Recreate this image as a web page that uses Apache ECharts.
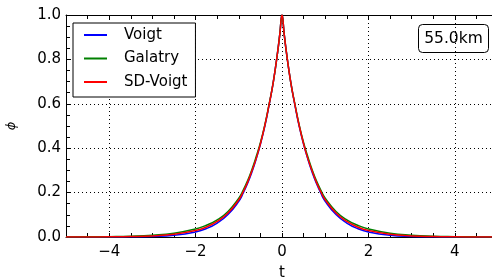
<!DOCTYPE html>
<html>
<head>
<meta charset="utf-8">
<script src="https://cdn.jsdelivr.net/npm/echarts@6/dist/echarts.min.js"></script>
<style>
html, body { margin: 0; padding: 0; background: #fff; }
#main { width: 492px; height: 278px; }
</style>
</head>
<body>
<div id="main"></div>
<script>
var tValues = [-5, -4.5, -4, -3.5, -3, -2.5, -2, -1.75, -1.5, -1.25, -1, -0.9, -0.8, -0.7, -0.6, -0.5, -0.4, -0.3, -0.2, -0.1, -0.05, 0,
	0.05, 0.1, 0.2, 0.3, 0.4, 0.5, 0.6, 0.7, 0.8, 0.9, 1, 1.25, 1.5, 1.75, 2, 2.5, 3, 3.5, 4, 4.5, 5];
var voigt = [0, 0.0001, 0.0003, 0.0009, 0.0027, 0.008, 0.023, 0.038, 0.063, 0.101, 0.161, 0.197, 0.24, 0.291, 0.35, 0.418, 0.497, 0.593, 0.70, 0.835, 0.915, 1.0,
	0.915, 0.835, 0.70, 0.593, 0.497, 0.418, 0.35, 0.291, 0.24, 0.197, 0.161, 0.101, 0.063, 0.038, 0.023, 0.008, 0.0027, 0.0009, 0.0003, 0.0001, 0];
var galatry = [0.0003, 0.0007, 0.0016, 0.0035, 0.008, 0.017, 0.036, 0.053, 0.077, 0.115, 0.175, 0.21, 0.252, 0.302, 0.36, 0.425, 0.503, 0.597, 0.70, 0.835, 0.915, 1.0,
	0.915, 0.835, 0.70, 0.597, 0.503, 0.425, 0.36, 0.302, 0.252, 0.21, 0.175, 0.115, 0.077, 0.053, 0.036, 0.017, 0.008, 0.0035, 0.0016, 0.0007, 0.0003];
var sdVoigt = [0.0001, 0.0003, 0.0008, 0.002, 0.005, 0.012, 0.029, 0.045, 0.070, 0.108, 0.168, 0.203, 0.245, 0.296, 0.352, 0.42, 0.50, 0.595, 0.70, 0.835, 0.915, 1.0,
	0.915, 0.835, 0.70, 0.595, 0.50, 0.42, 0.352, 0.296, 0.245, 0.203, 0.168, 0.108, 0.070, 0.045, 0.029, 0.012, 0.005, 0.002, 0.0008, 0.0003, 0.0001];
var xTickLabels = [-4, -2, 0, 2, 4];
var yTickLabels = [0.0, 0.2, 0.4, 0.6, 0.8, 1.0];
var annotation = '55.0km';

var font = 'DejaVu Sans';

function pairs(ys) {
	return tValues.map(function (t, i) { return [t, ys[i]]; });
}

function makeSeries(name, ys, color) {
	return {
		name: name,
		type: 'line',
		data: pairs(ys),
		showSymbol: false,
		symbol: 'none',
		smooth: 0.5,
		lineStyle: { color: color, width: 1.5 },
		itemStyle: { color: color },
		animation: false
	};
}

function isLabel(list, v) {
	for (var i = 0; i < list.length; i++) {
		if (Math.abs(list[i] - v) < 1e-6) return true;
	}
	return false;
}

var dotted = { color: '#000', type: [1, 3], width: 1 };

var myChart = echarts.init(document.getElementById('main'));
var option = {
	animation: false,
	backgroundColor: '#fff',
	textStyle: { fontFamily: font },
	grid: { left: 66, top: 15, right: -6, bottom: 41, outerBoundsMode: 'none', containLabel: false },
	legend: {
		left: 73,
		top: 23,
		orient: 'vertical',
		icon: 'rect',
		itemWidth: 23,
		itemHeight: 2,
		itemGap: 5.5,
		padding: [3, 8, 6, 11],
		backgroundColor: '#fff',
		borderColor: '#000',
		borderWidth: 1,
		borderRadius: 0,
		itemStyle: { borderWidth: 0 },
		lineStyle: { width: 0 },
		textStyle: { fontFamily: font, fontSize: 15, color: '#000', lineHeight: 18, padding: [0, 0, 0, 12] },
		data: ['Voigt', 'Galatry', 'SD-Voigt']
	},
	xAxis: [{
		type: 'value',
		min: -5,
		max: 5,
		interval: 0.5,
		position: 'bottom',
		name: 't',
		nameLocation: 'middle',
		nameGap: 29,
		nameTextStyle: { fontFamily: font, fontSize: 15, color: '#000' },
		axisLine: { onZero: false, lineStyle: { color: '#000', width: 1 } },
		axisTick: { inside: true, length: 4, lineStyle: { color: '#000' } },
		axisLabel: {
			interval: 0,
			margin: 8,
			fontFamily: font,
			fontSize: 15,
			color: '#000',
			formatter: function (v) {
				if (!isLabel(xTickLabels, v)) return '';
				var s = String(Math.round(v));
				return s.replace('-', '\u2212');
			}
		},
		splitLine: { show: false }
	}, {
		type: 'value',
		min: -5,
		max: 5,
		interval: 0.5,
		position: 'top',
		axisLine: { onZero: false, lineStyle: { color: '#000', width: 1 } },
		axisTick: { inside: true, length: 4, lineStyle: { color: '#000' } },
		axisLabel: { show: false },
		splitLine: { show: false }
	}, {
		// grid lines only
		type: 'value',
		min: -5,
		max: 5,
		position: 'bottom',
		axisLine: { show: false },
		axisTick: { show: false, customValues: xTickLabels },
		axisLabel: { show: false, customValues: xTickLabels },
		splitLine: { show: true, lineStyle: dotted }
	}],
	yAxis: [{
		type: 'value',
		min: 0,
		max: 1,
		interval: 0.05,
		position: 'left',
		name: '\u03d5',
		nameLocation: 'middle',
		nameGap: 48,
		nameRotate: 90,
		nameTextStyle: { fontFamily: font, fontSize: 13, fontStyle: 'italic', color: '#000' },
		axisLine: { onZero: false, lineStyle: { color: '#000', width: 1 } },
		axisTick: { inside: true, length: 4, lineStyle: { color: '#000' } },
		axisLabel: {
			interval: 0,
			margin: 5,
			fontFamily: font,
			fontSize: 15,
			color: '#000',
			formatter: function (v) {
				return isLabel(yTickLabels, v) ? v.toFixed(1) : '';
			}
		},
		splitLine: { show: false }
	}, {
		// grid lines only
		type: 'value',
		min: 0,
		max: 1,
		position: 'left',
		axisLine: { show: false },
		axisTick: { show: false, customValues: yTickLabels },
		axisLabel: { show: false, customValues: yTickLabels },
		splitLine: { show: true, lineStyle: dotted }
	}],
	graphic: [{
		type: 'group',
		right: 3,
		top: 24,
		children: [{
			type: 'rect',
			shape: { x: 0, y: 0, width: 70, height: 28, r: 4 },
			style: { fill: '#fff', stroke: '#000', lineWidth: 1 }
		}, {
			type: 'text',
			x: 35,
			y: 14,
			style: { text: annotation, fontFamily: font, fontSize: 15.5, fill: '#000', align: 'center', verticalAlign: 'middle' }
		}]
	}],
	series: [
		makeSeries('Voigt', voigt, '#0000ff'),
		makeSeries('Galatry', galatry, '#008000'),
		makeSeries('SD-Voigt', sdVoigt, '#ff0000')
	]
};

myChart.setOption(option);

window.onresize = function () {
	myChart.resize();
};
</script>
</body>
</html>
